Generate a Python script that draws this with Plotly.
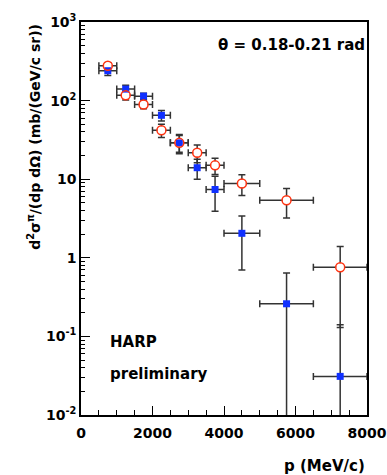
import plotly.graph_objects as go

# ---- data ----
p_center = [750, 1250, 1750, 2250, 2750, 3250, 3750, 4500, 5750, 7250]
p_halfwidth = [250, 250, 250, 250, 250, 250, 250, 500, 750, 750]

blue_vals = [240, 140, 114, 65, 29, 14, 7.4, 2.05, 0.26, 0.031]
blue_errs = [31, 17, 10, 10, 8, 4, 3.5, 1.35, 0.38, 0.11]

red_vals = [277, 117, 89, 42, 29, 21.7, 15, 8.8, 5.4, 0.76]
red_errs = [25, 15, 10, 8, 7, 5.5, 3.5, 2.6, 2.2, 0.63]

y_tickvals = [0.01, 0.1, 1, 10, 100, 1000]
y_ticktext = ["10<sup>-2</sup>", "10<sup>-1</sup>", "1", "10", "10<sup>2</sup>", "10<sup>3</sup>"]
x_tickvals = [0, 2000, 4000, 6000, 8000]

FONT = "DejaVu Sans"
BLUE = "#1030ff"
RED = "#ff3311"
ERR = "#333333"
Y_MIN = 0.01


def lower_err(vals, errs):
    # error bars that reach below zero run to the bottom of the log axis
    return [e if v - e > 0 else v - Y_MIN * 0.5 for v, e in zip(vals, errs)]


fig = go.Figure()

def err_trace(vals, errs):
    return go.Scatter(
        x=p_center, y=vals, mode="markers",
        marker=dict(size=1, color="rgba(0,0,0,0)"),
        error_x=dict(type="data", array=p_halfwidth, color=ERR, thickness=1.5, width=3.5),
        error_y=dict(type="data", array=errs, arrayminus=lower_err(vals, errs),
                     symmetric=False, color=ERR, thickness=1.5, width=3.5),
        showlegend=False, hoverinfo="skip")

fig.add_trace(err_trace(blue_vals, blue_errs))
fig.add_trace(err_trace(red_vals, red_errs))
# white interior of open circles (hides error lines inside)
fig.add_trace(go.Scatter(x=p_center, y=red_vals, mode="markers",
                         marker=dict(symbol="circle", size=8, color="white", line=dict(width=0)),
                         showlegend=False, hoverinfo="skip"))
fig.add_trace(go.Scatter(x=p_center, y=blue_vals, mode="markers",
                         marker=dict(symbol="square", size=7, color=BLUE, line=dict(width=0)),
                         showlegend=False))
fig.add_trace(go.Scatter(x=p_center, y=red_vals, mode="markers",
                         marker=dict(symbol="circle-open", size=9, color=RED, line=dict(width=1.5, color=RED)),
                         showlegend=False))

minor_y = [k * 10 ** e for e in range(-2, 3) for k in range(2, 10)]

fig.update_layout(
    width=387, height=475,
    margin=dict(l=81, r=20, t=22, b=60, autoexpand=False),
    paper_bgcolor="white", plot_bgcolor="white",
    font=dict(family=FONT, size=14, color="black"),
    xaxis=dict(range=[0, 8000], showgrid=False, zeroline=False, automargin=False,
               showline=True, linecolor="black", linewidth=1.5, mirror=True,
               ticks="inside", ticklen=9, tickwidth=1, tickcolor="black",
               tickmode="array", tickvals=x_tickvals, ticklabelstandoff=4,
               tickfont=dict(family=FONT, size=14, weight="bold"),
               minor=dict(ticks="inside", ticklen=5, tickwidth=1, tickcolor="black", dtick=500, showgrid=False)),
    yaxis=dict(type="log", range=[-2, 3], showgrid=False, zeroline=False, automargin=False,
               showline=True, linecolor="black", linewidth=1.5, mirror=True,
               ticks="inside", ticklen=9, tickwidth=1, tickcolor="black",
               tickmode="array", tickvals=y_tickvals, ticktext=y_ticktext,
               tickfont=dict(family=FONT, size=14, weight="bold"),
               minor=dict(ticks="inside", ticklen=4.5, tickwidth=1, tickcolor="black",
                          tickmode="array", tickvals=minor_y, showgrid=False)),
)

bold = dict(family=FONT, size=15, color="black", weight="bold")
fig.add_annotation(text="θ = 0.18-0.21 rad", xref="paper", yref="paper", x=1.0, y=0.942,
                   xanchor="right", yanchor="middle", showarrow=False, font=bold)
fig.add_annotation(text="HARP", xref="paper", yref="paper", x=0.093, y=0.186,
                   xanchor="left", yanchor="middle", showarrow=False, font=bold)
fig.add_annotation(text="preliminary", xref="paper", yref="paper", x=0.093, y=0.105,
                   xanchor="left", yanchor="middle", showarrow=False, font=bold)
fig.add_annotation(text="p (MeV/c)", xref="paper", yref="paper", x=1.0, y=-0.13,
                   xanchor="right", yanchor="middle", showarrow=False, font=bold)
fig.add_annotation(text="d<sup>2</sup>σ<sup>π</sup>/(dp dΩ) (mb/(GeV/c sr))",
                   xref="paper", yref="paper", x=-0.165, y=1.0, textangle=-90,
                   xanchor="center", yanchor="top", showarrow=False,
                   font=dict(family=FONT, size=14, color="black", weight="bold"))

fig.write_html("out.html",
               config={"displayModeBar": False},
               post_script="document.body.style.margin='0';document.body.style.overflow='hidden';")
